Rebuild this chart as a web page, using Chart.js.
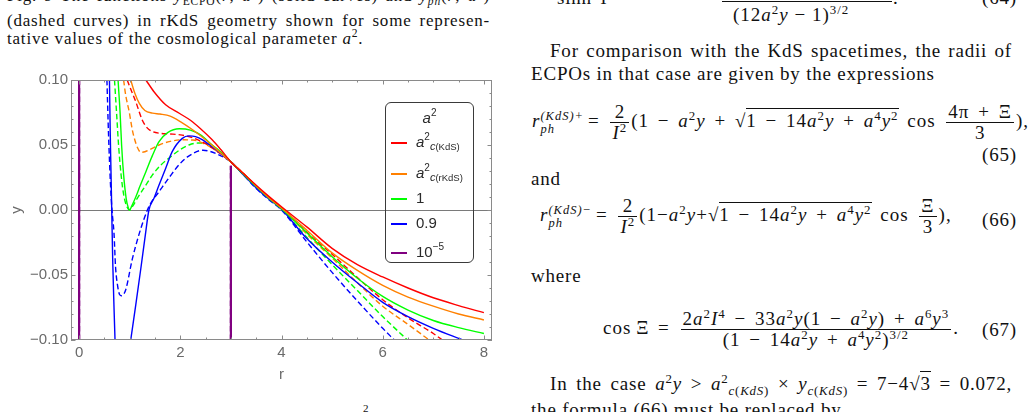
<!DOCTYPE html>
<html lang="en">
<head>
<meta charset="UTF-8">
<title>ECPO curves in rKdS geometry</title>
<script src="https://cdn.jsdelivr.net/npm/chart.js"></script>
<style>
  body { margin: 0; width: 1030px; height: 412px; overflow: hidden; background: #fff; position: relative;
         font-family: "Liberation Serif", "Times New Roman", serif; color: #111; }
  .ln { position: absolute; white-space: nowrap; }
  .cap { font-size: 17px; line-height: 18px; letter-spacing: 0.8px; }
  .txt { font-size: 19px; line-height: 23px; letter-spacing: 0.8px; }
  .eq { font-size: 19px; letter-spacing: 1px; word-spacing: 3px; }
  .just { white-space: normal; text-align: justify; text-align-last: justify; }
  sup, sub { font-size: 0.68em; line-height: 0; }
  .frac { display: inline-block; vertical-align: middle; text-align: center; line-height: 20px; margin: 0 2px; }
  .frac > span { display: block; padding: 0 2px; }
  .frac > span:first-child { border-bottom: 1px solid #111; }
  .rad { border-top: 1px solid #111; padding-top: 1px; }
  .ss { display: inline-flex; flex-direction: column; vertical-align: 7px; font-size: 12.5px; line-height: 13px; margin-right: 4px; }
  #chart { position: absolute; left: 0; top: 60px; }
  #legend { position: absolute; left: 385px; top: 102px; width: 87px; height: 159px;
            border: 1px solid #3a3a3a; border-radius: 6px;
            font-family: "Liberation Sans", Arial, sans-serif; color: #2a2a2a; font-size: 15px; }
  #legend .row { position: absolute; left: 5px; height: 20px; line-height: 20px; white-space: nowrap; }
  #legend .sw { display: inline-block; width: 16px; height: 2px; vertical-align: middle; margin-right: 9px; }
  #legend .lsub { font-size: 11px; position: relative; top: 3px; }
  #legend .lsub small { font-size: 9.5px; }
  #legend sup { font-size: 10px; position: relative; top: -1px; }
</style>
</head>
<body>

<!-- left column: figure caption -->
<div class="ln cap just" style="left:7px; top:-13px; width:483px;">Fig. 9 The functions <i>y</i><sub>ECPO</sub>(<i>r</i>; <i>a</i><sup>2</sup>) (solid curves) and <i>y</i><sub><i>ph</i></sub>(<i>r</i>; <i>a</i><sup>2</sup>)</div>
<div class="ln cap just" style="left:7px; top:12px; width:483px;">(dashed curves) in rKdS geometry shown for some represen-</div>
<div class="ln cap" style="left:7px; top:30px;">tative values of the cosmological parameter <i>a</i><sup>2</sup>.</div>

<canvas id="chart" width="500" height="340"></canvas>

<div id="legend">
  <div class="row" style="left:0; width:87px; text-align:center; top:5px;"><i>a</i><sup>2</sup></div>
  <div class="row" style="top:29px;"><span class="sw" style="background:#ff0000"></span><i>a</i><sup>2</sup><span class="lsub"><i>c</i><small>(KdS)</small></span></div>
  <div class="row" style="top:60px;"><span class="sw" style="background:#ff8000"></span><i>a</i><sup>2</sup><span class="lsub"><i>c</i><small>(rKdS)</small></span></div>
  <div class="row" style="top:85px;"><span class="sw" style="background:#00ff00"></span>1</div>
  <div class="row" style="top:110px;"><span class="sw" style="background:#0000ff"></span>0.9</div>
  <div class="row" style="top:139px;"><span class="sw" style="background:#800080"></span>10<sup>&minus;5</sup></div>
</div>

<div class="ln" style="left:363px; top:403px; font-size:11px; line-height:11px;">2</div>

<!-- right column -->
<div class="ln txt" style="left:557px; top:-14px;">sinh&thinsp;&Psi; =</div>
<div class="ln" style="left:722px; top:1px; width:170px; height:1px; background:#111;"></div>
<div class="ln txt eq" style="left:733px; top:3px; word-spacing:0;">(12<i>a</i><sup>2</sup><i>y</i> &minus; 1)<sup>3/2</sup></div>
<div class="ln txt" style="left:893px; top:-14px;">.</div>
<div class="ln txt" style="left:982px; top:-14px;">(64)</div>

<div class="ln txt just" style="left:550px; top:39px; width:462px;">For comparison with the KdS spacetimes, the radii of</div>
<div class="ln txt" style="left:531px; top:62px;">ECPOs in that case are given by the expressions</div>

<div class="ln txt eq" style="left:532px; top:102px;"><i>r</i><span class="ss"><i>(KdS)+</i><i>ph</i></span>= <span class="frac"><span>2</span><span><i>I</i><sup>2</sup></span></span>(1 &minus; <i>a</i><sup>2</sup><i>y</i> + &radic;<span class="rad">1 &minus; 14<i>a</i><sup>2</sup><i>y</i> + <i>a</i><sup>4</sup><i>y</i><sup>2</sup></span> cos <span class="frac"><span>4&pi; + &Xi;</span><span>3</span></span>),</div>
<div class="ln txt" style="left:982px; top:143px;">(65)</div>
<div class="ln txt" style="left:531px; top:167px;">and</div>

<div class="ln txt eq" style="left:540px; top:196px;"><i>r</i><span class="ss"><i>(KdS)&minus;</i><i>ph</i></span>= <span class="frac"><span>2</span><span><i>I</i><sup>2</sup></span></span>(1&minus;<i>a</i><sup>2</sup><i>y</i>+&radic;<span class="rad">1 &minus; 14<i>a</i><sup>2</sup><i>y</i> + <i>a</i><sup>4</sup><i>y</i><sup>2</sup></span> cos <span class="frac"><span>&Xi;</span><span>3</span></span>),</div>
<div class="ln txt" style="left:982px; top:208px;">(66)</div>
<div class="ln txt" style="left:531px; top:264px;">where</div>

<div class="ln txt eq" style="left:603px; top:309px;">cos&thinsp;&Xi; = <span class="frac"><span>2<i>a</i><sup>2</sup><i>I</i><sup>4</sup> &minus; 33<i>a</i><sup>2</sup><i>y</i>(1 &minus; <i>a</i><sup>2</sup><i>y</i>) + <i>a</i><sup>6</sup><i>y</i><sup>3</sup></span><span>(1 &minus; 14<i>a</i><sup>2</sup><i>y</i> + <i>a</i><sup>4</sup><i>y</i><sup>2</sup>)<sup>3/2</sup></span></span>.</div>
<div class="ln txt" style="left:982px; top:318px;">(67)</div>

<div class="ln txt just" style="left:550px; top:372px; width:462px;">In the case <i>a</i><sup>2</sup><i>y</i> &gt; <i>a</i><sup>2</sup><sub><i>c</i>(<i>KdS</i>)</sub> &times; <i>y</i><sub><i>c</i>(<i>KdS</i>)</sub> = 7&minus;4&radic;<span class="rad">3</span> = 0.072,</div>
<div class="ln txt" style="left:531px; top:398px;">the formula (66) must be replaced by</div>

<script>
// tick values and labels
const xMajor = [0, 2, 4, 6, 8];
const xLabels = ['0', '2', '4', '6', '8'];
const yMajor = [-0.1, -0.05, 0, 0.05, 0.1];
const yLabels = ['\u22120.10', '\u22120.05', '0.00', '0.05', '0.10'];

// a^2 = a^2_c(KdS)
const redSolidR = [1.32, 1.48, 1.71, 1.98, 2.2, 2.4, 2.63, 2.8, 3.0, 3.25, 3.5, 3.75, 4.0, 4.5, 5.0, 5.5, 6.0, 6.5, 7.0, 7.5, 8.0];
const redSolidY = [0.100, 0.091, 0.081, 0.0744, 0.069, 0.0625, 0.054, 0.0465, 0.037, 0.028, 0.019, 0.0105, 0.0025, -0.013, -0.0295, -0.042, -0.0515, -0.060, -0.0675, -0.0735, -0.079];
const redDashR = [0.95, 1.02, 1.12, 1.25, 1.35, 1.45, 1.6, 1.8, 2.0, 2.25, 2.5, 2.75, 3.0, 3.25, 3.5, 3.75, 4.0, 4.5, 5.0, 5.5, 6.0, 6.5, 7.0, 7.18];
const redDashY = [0.100, 0.093, 0.0833, 0.069, 0.063, 0.0603, 0.059, 0.0585, 0.0578, 0.0555, 0.051, 0.0445, 0.037, 0.028, 0.0185, 0.0095, 0.002, -0.017, -0.034, -0.052, -0.069, -0.083, -0.095, -0.100];

// a^2 = a^2_c(rKdS)
const orangeSolidR = [1.02, 1.1, 1.19, 1.3, 1.45, 1.6, 1.8, 2.0, 2.25, 2.5, 2.75, 3.0, 3.25, 3.5, 3.75, 4.0, 4.5, 5.0, 5.5, 6.0, 6.5, 7.0, 7.5, 8.0];
const orangeSolidY = [0.100, 0.090, 0.082, 0.0765, 0.0745, 0.0738, 0.0722, 0.068, 0.0615, 0.054, 0.0455, 0.037, 0.028, 0.0185, 0.0095, 0.0015, -0.0155, -0.033, -0.0465, -0.058, -0.067, -0.074, -0.080, -0.0846];
const orangeDashR = [0.88, 0.92, 0.99, 1.05, 1.1, 1.16, 1.22, 1.3, 1.4, 1.58, 1.8, 2.05, 2.25, 2.5, 2.75, 3.0, 3.25, 3.5, 3.75, 4.0, 4.5, 5.0, 5.5, 6.0, 6.5, 6.92];
const orangeDashY = [0.100, 0.0885, 0.0756, 0.062, 0.054, 0.0475, 0.0444, 0.0448, 0.0465, 0.050, 0.0528, 0.054, 0.0538, 0.0505, 0.0445, 0.037, 0.0275, 0.018, 0.009, 0.0015, -0.0185, -0.037, -0.056, -0.074, -0.088, -0.100];

// a^2 = 1
const greenSolidR = [0.77, 0.81, 0.84, 0.88, 0.93, 0.97, 1.0, 1.04, 1.12, 1.2, 1.32, 1.45, 1.58, 1.75, 1.98, 2.2, 2.4, 2.63, 2.8, 3.0, 3.25, 3.5, 3.75, 4.0, 4.5, 5.0, 5.5, 6.0, 6.5, 7.0, 7.5, 8.0];
const greenSolidY = [0.100, 0.075, 0.050, 0.027, 0.009, 0.002, 0.000, 0.003, 0.010, 0.018, 0.0295, 0.042, 0.0526, 0.0595, 0.0625, 0.0615, 0.0578, 0.050, 0.0445, 0.037, 0.0275, 0.018, 0.009, 0.001, -0.0175, -0.036, -0.0525, -0.0665, -0.077, -0.085, -0.0905, -0.095];
const greenDashR = [0.70, 0.74, 0.78, 0.83, 0.88, 0.94, 1.0, 1.06, 1.15, 1.3, 1.45, 1.6, 1.78, 2.0, 2.17, 2.35, 2.57, 2.8, 3.0, 3.25, 3.5, 3.75, 4.0, 4.5, 5.0, 5.5, 6.0, 6.49];
const greenDashY = [0.100, 0.075, 0.050, 0.027, 0.012, 0.003, 0.000, 0.003, 0.009, 0.018, 0.027, 0.034, 0.040, 0.0465, 0.050, 0.0515, 0.0505, 0.0445, 0.037, 0.027, 0.0175, 0.0085, 0.0005, -0.021, -0.042, -0.062, -0.082, -0.100];

// a^2 = 0.9 (null = curve leaves the plot range)
const blueSolidR = [0.60, 0.615, 0.63, 0.645, 0.665, 0.69, 0.71, null, 1.02, 1.12, 1.22, 1.31, 1.38, 1.48, 1.58, 1.71, 1.84, 2.04, 2.17, 2.3, 2.44, 2.7, 3.0, 3.25, 3.5, 3.75, 4.0, 4.5, 5.0, 5.5, 6.0, 6.5, 7.0, 7.58];
const blueSolidY = [0.100, 0.060, 0.030, 0.000, -0.040, -0.075, -0.100, null, -0.100, -0.073, -0.045, -0.019, 0.000, 0.009, 0.0192, 0.032, 0.0449, 0.0551, 0.057, 0.0565, 0.054, 0.0465, 0.037, 0.027, 0.017, 0.0085, 0.0005, -0.022, -0.040, -0.056, -0.071, -0.082, -0.091, -0.100];
const blueDashR = [0.55, 0.58, 0.62, 0.65, 0.69, 0.72, 0.76, 0.8, 0.84, 0.92, 1.05, 1.19, 1.35, 1.45, 1.55, 1.65, 1.78, 1.98, 2.15, 2.45, 2.7, 3.0, 3.25, 3.5, 3.75, 4.0, 4.5, 5.0, 5.5, 6.0, 6.23];
const blueDashY = [0.100, 0.060, 0.020, 0.000, -0.018, -0.0436, -0.058, -0.065, -0.066, -0.0615, -0.038, -0.018, 0.000, 0.0075, 0.0125, 0.018, 0.025, 0.035, 0.041, 0.046, 0.0435, 0.037, 0.027, 0.0165, 0.008, 0.000, -0.0245, -0.048, -0.070, -0.091, -0.100];

// a^2 = 10^-5
const purpleR = [0, 0, null, 3, 3];
const purpleY = [-0.100, 0.100, null, -0.100, 0.034];

function pts(rs, ys) {
    return rs.map((r, i) => ({ x: r, y: ys[i] }));
}

function curve(rs, ys, color, dashed) {
    return {
        data: pts(rs, ys),
        borderColor: color,
        borderWidth: 1.4,
        borderDash: dashed ? [5.5, 3] : [],
        pointRadius: 0,
        cubicInterpolationMode: 'monotone',
        fill: false
    };
}

const purpleSolid = curve(purpleR, purpleY, '#800080', false);
purpleSolid.cubicInterpolationMode = 'default';
purpleSolid.tension = 0;
purpleSolid.borderWidth = 2.2;
const purpleDash = curve(purpleR, purpleY, '#800080', true);
purpleDash.cubicInterpolationMode = 'default';
purpleDash.tension = 0;
purpleDash.borderWidth = 2.2;

// frame with inward ticks, the r axis at y = 0, tick labels and axis titles
const framePlugin = {
    id: 'frame',
    beforeDatasetsDraw(chart) {
        const { ctx, chartArea: a, scales: { y } } = chart;
        const y0 = Math.round(y.getPixelForValue(0)) + 0.5;
        ctx.save();
        ctx.strokeStyle = '#7a7a7a';
        ctx.lineWidth = 1;
        ctx.beginPath();
        ctx.moveTo(a.left, y0);
        ctx.lineTo(a.right, y0);
        ctx.stroke();
        ctx.restore();
    },
    afterDatasetsDraw(chart) {
        const { ctx, chartArea: a, scales: { x, y } } = chart;
        ctx.save();
        ctx.strokeStyle = '#8a8a8a';
        ctx.lineWidth = 1;
        ctx.strokeRect(a.left + 0.5, a.top + 0.5, a.right - a.left - 1, a.bottom - a.top - 1);

        ctx.beginPath();
        for (let i = 0; i <= 16; i++) {
            const v = i * 0.5;
            const len = i % 4 === 0 ? 4.5 : 2.5;
            const px = Math.round(x.getPixelForValue(v)) + 0.5;
            ctx.moveTo(px, a.bottom); ctx.lineTo(px, a.bottom - len);
            ctx.moveTo(px, a.top); ctx.lineTo(px, a.top + len);
        }
        for (let i = -10; i <= 10; i++) {
            const v = i * 0.01;
            const len = i % 5 === 0 ? 4.5 : 2.5;
            const py = Math.round(y.getPixelForValue(v)) + 0.5;
            ctx.moveTo(a.left, py); ctx.lineTo(a.left + len, py);
            ctx.moveTo(a.right, py); ctx.lineTo(a.right - len, py);
        }
        ctx.stroke();

        ctx.fillStyle = '#6a6a6a';
        ctx.font = '15px "Liberation Sans", Arial, sans-serif';
        ctx.textAlign = 'right';
        ctx.textBaseline = 'middle';
        yMajor.forEach((v, i) => ctx.fillText(yLabels[i], a.left - 3, y.getPixelForValue(v)));
        ctx.textAlign = 'center';
        ctx.textBaseline = 'top';
        xMajor.forEach((v, i) => ctx.fillText(xLabels[i], x.getPixelForValue(v), a.bottom + 5));

        ctx.textBaseline = 'middle';
        ctx.fillText('r', (a.left + a.right) / 2, a.bottom + 35);
        ctx.translate(17, (a.top + a.bottom) / 2);
        ctx.rotate(-Math.PI / 2);
        ctx.fillText('y', 0, 0);
        ctx.restore();
    }
};

new Chart(document.getElementById('chart').getContext('2d'), {
    type: 'line',
    data: {
        datasets: [
            curve(redSolidR, redSolidY, '#ff0000', false),
            curve(orangeSolidR, orangeSolidY, '#ff8000', false),
            curve(greenSolidR, greenSolidY, '#00ff00', false),
            curve(blueSolidR, blueSolidY, '#0000ff', false),
            curve(redDashR, redDashY, '#ff0000', true),
            curve(orangeDashR, orangeDashY, '#ff8000', true),
            curve(greenDashR, greenDashY, '#00ff00', true),
            curve(blueDashR, blueDashY, '#0000ff', true),
            purpleDash,
            purpleSolid
        ]
    },
    options: {
        responsive: false,
        animation: false,
        layout: { padding: { left: 71, right: 8, top: 20, bottom: 60 } },
        plugins: { legend: { display: false }, tooltip: { enabled: false } },
        scales: {
            x: { type: 'linear', min: -0.16, max: 8.16, display: false },
            y: { type: 'linear', min: -0.1, max: 0.1, display: false }
        }
    },
    plugins: [framePlugin]
});
</script>
</body>
</html>
